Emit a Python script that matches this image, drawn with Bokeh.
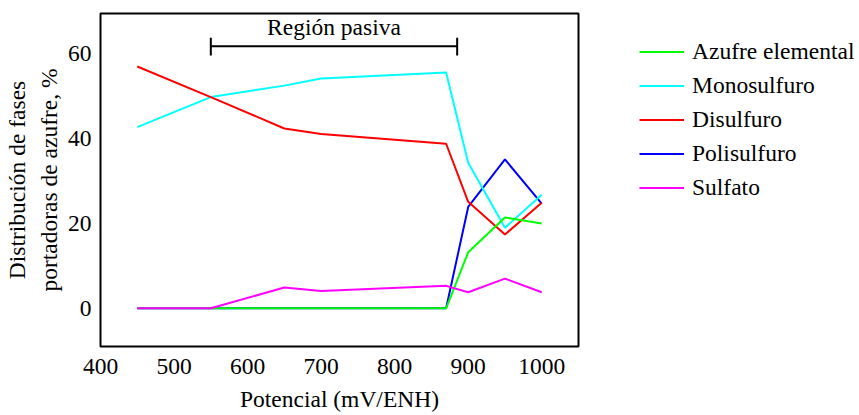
from bokeh.plotting import figure
from bokeh.layouts import row
from bokeh.models import Range1d, LinearAxis, FixedTicker, Legend, LegendItem
from bokeh.core.properties import value
from bokeh.embed import file_html
from bokeh.resources import INLINE

potential = [450, 550, 650, 700, 870, 900, 950, 1000]
azufre_elemental = [0, 0, 0, 0, 0, 13.2, 21.4, 20.0]
monosulfuro = [42.7, 49.8, 52.5, 54.2, 55.6, 34.3, 19.0, 26.8]
disulfuro = [57.0, 49.8, 42.4, 41.1, 38.8, 25.1, 17.4, 24.9]
polisulfuro = [0, 0, 0, 0, 0, 23.9, 35.1, 24.7]
sulfato = [0, 0, 4.9, 4.1, 5.3, 3.8, 7.0, 3.8]

series_names = ["Azufre elemental", "Monosulfuro", "Disulfuro", "Polisulfuro", "Sulfato"]
series_values = [azufre_elemental, monosulfuro, disulfuro, polisulfuro, sulfato]
series_colors = ["#00ff00", "#00ffff", "#ff0000", "#0000ff", "#ff00ff"]

x_ticks = [400, 500, 600, 700, 800, 900, 1000]
y_ticks = [0, 20, 40, 60]

passive_range = [550, 885]
passive_label = "Región pasiva"
passive_y = 61.8
passive_cap = [59.6, 63.8]
passive_text_y = 66.4

FONT = "Liberation Serif"
FS = "23.5px"

p = figure(width=580, height=415, output_backend="svg", toolbar_location=None,
           x_range=Range1d(400, 1050), y_range=Range1d(-9, 69.5),
           min_border_left=100, min_border_right=2, min_border_top=13, min_border_bottom=69)
p.background_fill_color = "white"
p.border_fill_color = "white"
p.outline_line_color = "black"
p.outline_line_width = 2
p.grid.visible = False

order = [3, 1, 2, 0, 4]
for i in order:
    p.line(potential, series_values[i], line_color=series_colors[i], line_width=2)

# passive region bracket
p.segment(x0=[passive_range[0]], y0=[passive_y], x1=[passive_range[1]], y1=[passive_y],
          line_color="black", line_width=2)
p.segment(x0=passive_range, y0=[passive_cap[0]] * 2, x1=passive_range, y1=[passive_cap[1]] * 2,
          line_color="black", line_width=2)
p.text(x=[(passive_range[0] + passive_range[1]) / 2], y=[passive_text_y], text=[passive_label],
       text_font=value(FONT), text_font_size=FS, text_align="center",
       text_baseline="middle", text_color="black")

p.xaxis.ticker = FixedTicker(ticks=x_ticks)
p.yaxis.ticker = FixedTicker(ticks=y_ticks)
for ax in (p.xaxis[0], p.yaxis[0]):
    ax.axis_line_color = None
    ax.major_tick_line_color = None
    ax.minor_tick_line_color = None
    ax.major_tick_out = 0
    ax.major_tick_in = 0
    ax.minor_tick_out = 0
    ax.major_label_text_font = FONT
    ax.major_label_text_font_size = FS
    ax.major_label_text_color = "black"
    ax.axis_label_text_font = FONT
    ax.axis_label_text_font_size = FS
    ax.axis_label_text_font_style = "normal"
    ax.axis_label_text_color = "black"

p.xaxis.axis_label = "Potencial (mV/ENH)"
p.xaxis.major_label_standoff = 12
p.xaxis.axis_label_standoff = 9
p.yaxis.axis_label = "portadoras de azufre, %"
p.yaxis.major_label_standoff = 9
p.yaxis.axis_label_standoff = 3

ax2 = LinearAxis(ticker=FixedTicker(ticks=[]), axis_label="Distribución de fases")
ax2.axis_line_color = None
ax2.major_tick_line_color = None
ax2.minor_tick_line_color = None
ax2.major_tick_out = 0
ax2.minor_tick_out = 0
ax2.major_label_standoff = 0
ax2.axis_label_standoff = 3
ax2.axis_label_text_font = FONT
ax2.axis_label_text_font_size = FS
ax2.axis_label_text_font_style = "normal"
ax2.axis_label_text_color = "black"
p.add_layout(ax2, "left")

# legend panel: same series drawn outside its visible range, so only the legend shows
pl = figure(width=279, height=415, output_backend="svg", toolbar_location=None,
            x_range=Range1d(0, 1), y_range=Range1d(0, 1),
            min_border_left=0, min_border_right=0, min_border_top=0, min_border_bottom=0)
pl.axis.visible = False
pl.grid.visible = False
pl.outline_line_color = None
pl.background_fill_color = "white"
pl.border_fill_color = "white"
leg_renderers = [pl.line(potential, series_values[i], line_color=series_colors[i], line_width=2)
                 for i in range(5)]

items = [LegendItem(label=series_names[i], renderers=[leg_renderers[i]]) for i in range(5)]
legend = Legend(items=items, location=(59, 145))
legend.label_text_font = FONT
legend.label_text_font_size = FS
legend.label_text_color = "black"
legend.glyph_width = 45
legend.glyph_height = 27
legend.label_height = 27
legend.label_standoff = 8
legend.spacing = 7
legend.padding = 0
legend.margin = 0
legend.border_line_alpha = 0
legend.background_fill_alpha = 0
pl.add_layout(legend, "center")

open("out.html", "w").write(file_html(row(p, pl), INLINE))
